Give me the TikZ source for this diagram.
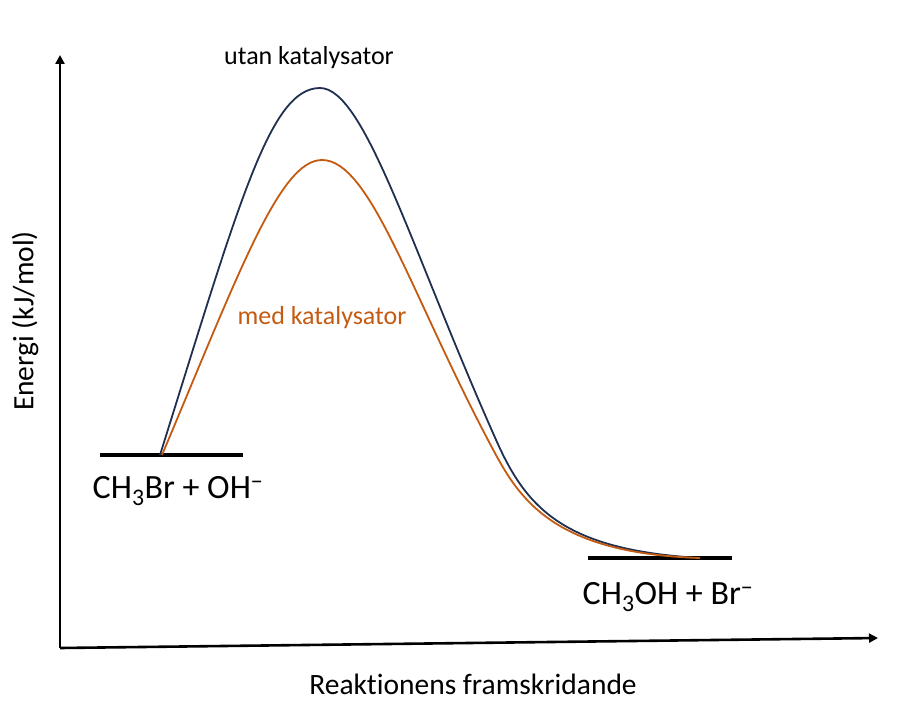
\documentclass[tikz,border=0pt]{standalone}
\usepackage{fontspec}
\setmainfont{Carlito}[Ligatures=NoCommon]
\usepackage{xcolor}
\usepackage{tikz}
\usetikzlibrary{arrows.meta,positioning}
\definecolor{ink}{HTML}{000000}
\definecolor{navy}{HTML}{1F3050}
\definecolor{rust}{HTML}{C55A11}

\begin{document}
\begin{tikzpicture}[x=1pt,y=-1pt, every node/.style={inner sep=0pt,text=ink}, lbl/.style={font=\fontsize{29.5}{34}\selectfont}, cat/.style={font=\fontsize{26}{30}\selectfont}, spec/.style={font=\fontsize{34}{40}\selectfont}, lvl/.style={draw=ink,line width=3.5pt}, ax/.style={draw=ink,line width=2.6pt,-{Triangle[length=9pt,width=9pt]}}, navyc/.style={draw=navy,line width=1.8pt}, rustc/.style={draw=rust,line width=1.8pt}]
\useasboundingbox (0,0) rectangle (924,706);
% axes
\coordinate (o) at (60,648);
\coordinate (ytop) at (60,55);
\coordinate (xend) at (878,638);
\draw[ax] (o)--(ytop);\draw[ax] (o)--(xend);
\node[lbl,rotate=90] (ylab) at (25,321) {Energi (kJ/mol)};
\node[lbl] (xlab) at (473,684) {Reaktionens framskridande};
% energy levels
\coordinate (r1) at (100,455);\coordinate (r2) at (243,455);
\coordinate (p1) at (588,558);\coordinate (p2) at (732,558);
\draw[lvl] (r1)--(r2);\draw[lvl] (p1)--(p2);
\node[spec] (react) at (178,491) {CH\textsubscript{3}Br + OH\textsuperscript{−}};
\node[spec] (prod) at (668,597) {CH\textsubscript{3}OH + Br\textsuperscript{−}};
% curves
\coordinate (ns) at (160,455);\coordinate (nt) at (320,88);\coordinate (nm) at (497,442);
\coordinate (os) at (162,455);\coordinate (ot) at (322,160);\coordinate (om) at (488,440);
\coordinate (fin) at (700,558);
\draw[navyc] (ns) .. controls (240,200) and (270,88) .. (nt) .. controls (365,88) and (412,252) .. (nm) .. controls (527,509) and (565,550) .. (fin);
\draw[rustc] (os) .. controls (240,270) and (280,160) .. (ot) .. controls (370,160) and (410,292) .. (om) .. controls (516,493) and (545,553) .. (fin);
\node[cat] (utan) at (309,58) {utan katalysator};
\node[cat,text=rust] (med) at (322,318) {med katalysator};
\end{tikzpicture}
\end{document}
